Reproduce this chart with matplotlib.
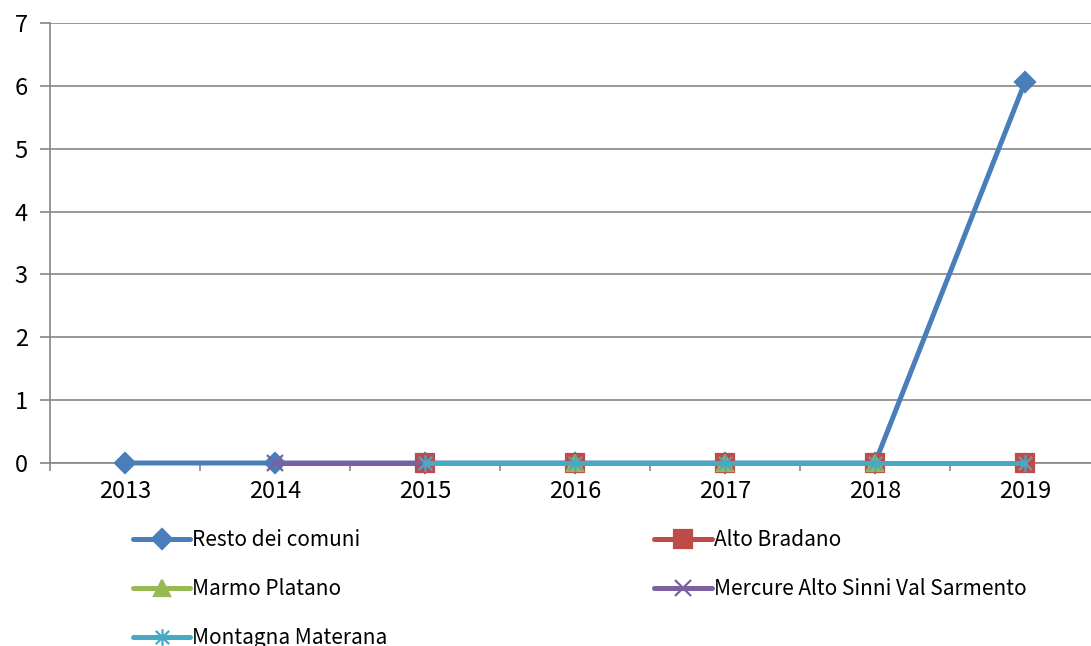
import numpy as np
import matplotlib
matplotlib.use("Agg")
import matplotlib.pyplot as plt
from matplotlib.path import Path
from matplotlib.ticker import FixedLocator, NullFormatter

plt.rcParams['font.family'] = ['Noto Sans CJK JP', 'DejaVu Sans']

years = ["2013", "2014", "2015", "2016", "2017", "2018", "2019"]
nan = np.nan
resto = [0, 0, 0, 0, 0, 0, 6.06]
alto_bradano = [nan, nan, 0, 0, 0, 0, 0]
marmo_platano = [nan, nan, nan, 0, 0, 0, nan]
mercure = [nan, 0, 0, nan, nan, nan, nan]
montagna = [nan, nan, 0, 0, 0, 0, 0]

# asterisk marker: a cross with a vertical stroke through it
star = Path([(-1, -1), (1, 1), (-1, 1), (1, -1), (0, -1.25), (0, 1.25)],
            [Path.MOVETO, Path.LINETO, Path.MOVETO, Path.LINETO,
             Path.MOVETO, Path.LINETO])

series = [
    ("Resto dei comuni", resto, "#4A7EBB", "D", 10),
    ("Alto Bradano", alto_bradano, "#BE4B48", "s", 13.5),
    ("Marmo Platano", marmo_platano, "#98B954", "^", 12),
    ("Mercure Alto Sinni Val Sarmento", mercure, "#7D60A0", "x", 12),
    ("Montagna Materana", montagna, "#46AAC5", star, 12),
]

fig = plt.figure(figsize=(10.91, 6.46), dpi=100)
ax = fig.add_axes([50 / 1091, 1 - 463 / 646, 1050 / 1091, 440 / 646])

x = np.arange(len(years))
handles = []
for name, vals, color, marker, ms in series:
    line, = ax.plot(x, vals, color=color, lw=3.6, marker=marker, ms=ms,
                    mew=1.6, mec=color, mfc=color, label=name,
                    solid_capstyle="round", clip_on=False, zorder=3)
    handles.append(line)

ax.set_xlim(-0.5, 6.5)
ax.set_ylim(0, 7)
ax.set_yticks(range(0, 8))
ax.set_xticks(x)
ax.set_xticklabels(years)
ax.xaxis.set_minor_locator(FixedLocator(np.arange(-0.5, 7, 1)))
ax.xaxis.set_minor_formatter(NullFormatter())
ax.tick_params(axis="x", which="major", length=0, labelsize=17, pad=12)
ax.tick_params(axis="x", which="minor", length=6, width=1.2, color="#868686")
ax.tick_params(axis="y", length=7, width=1.2, color="#868686", labelsize=17, pad=9)

ax.grid(axis="y", color="#868686", lw=1.2)
ax.set_axisbelow(True)
for side in ("top", "right"):
    ax.spines[side].set_visible(False)
for side in ("left", "bottom"):
    ax.spines[side].set_color("#868686")
    ax.spines[side].set_linewidth(1.2)

order = [0, 2, 4, 1, 3]
fig.legend([handles[i] for i in order], [series[i][0] for i in order],
           loc="upper left", bbox_to_anchor=(133 / 1091, 1 - 529 / 646),
           ncol=2, frameon=False, fontsize=15, handlelength=2.75,
           handletextpad=0.1, labelspacing=1.3, columnspacing=12.8,
           borderaxespad=0, borderpad=0)

fig.savefig("out.png", dpi=100)
